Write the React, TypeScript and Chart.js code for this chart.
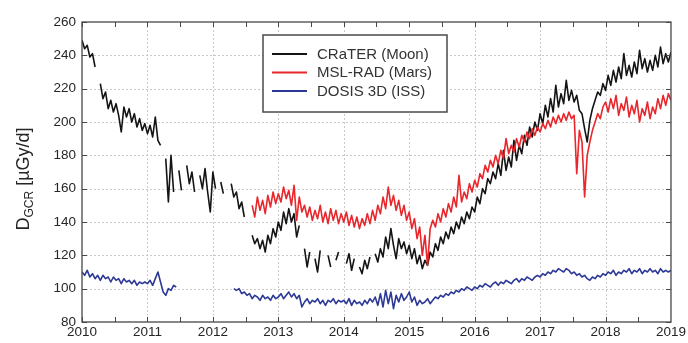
import React, { useEffect, useRef } from "react";
import { Chart, registerables } from "chart.js";

Chart.register(...registerables);

// ---------------- data ----------------
const START_YEAR = 2010;
const STEP = 0.04; // sample spacing in years

const xTicks = [2010, 2011, 2012, 2013, 2014, 2015, 2016, 2017, 2018, 2019];
const yTicks = [80, 100, 120, 140, 160, 180, 200, 220, 240, 260];

const seriesNames = ["CRaTER (Moon)", "MSL-RAD (Mars)", "DOSIS 3D (ISS)"];
const seriesColors = ["#141414", "#e8262b", "#2c3896"];

// CRaTER (Moon), 25 samples per year, 2010.00 .. 2019.00
const crater: (number | null)[] = [
  249, 244, 246, 239, 241, 233, null, 223, 214, 218, 208, 213, 206, 211, 204, 194, 209, 203, 208, 200, 205, 197, 202, 195, 199,
  193, 198, 191, 203, 189, 186, null, 178, 152, 180, 158, null, 171, 159, null, 174, 163, 170, 158, null, 168, 160, 172, 158, 146,
  170, 160, null, 164, 157, null, null, 163, 155, 158, 148, 152, 143, null, null, 132, 127, 130, 124, 129, 122, 132, 127, 136, 131,
  140, 135, 146, 139, 148, 140, 145, 131, 138, null, 124, 113, 122, null, 118, 110, 123, null, null, 120, 113, null, 117, 122, null,
  null, 115, 121, 111, 118, null, 113, 109, 117, 112, 119, null, 121, 116, 124, 119, 131, 124, 136, 126, 118, 130, 124, 128, 121,
  126, 118, 124, 115, 120, 112, 117, 114, 122, 119, 127, 123, 131, 127, 134, 130, 137, 133, 140, 136, 143, 139, 146, 142, 149,
  146, 155, 151, 160, 157, 166, 163, 170, 166, 175, 168, 183, 171, 179, 173, 189, 177, 186, 181, 192, 186, 197, 191, 200, 195,
  205, 199, 210, 203, 214, 206, 222, 209, 217, 211, 225, 213, 219, 212, 216, 207, 205, 196, 188, 201, 208, 213, 218, 216, 223,
  219, 228, 222, 231, 224, 233, 226, 241, 228, 234, 227, 236, 229, 243, 232, 238, 230, 237, 231, 240, 233, 245, 235, 241, 236,
  242,
];

// MSL-RAD (Mars)
const mslRad: (number | null)[] = [
  null, null, null, null, null, null, null, null, null, null, null, null, null, null, null, null, null, null, null, null, null, null, null, null, null,
  null, null, null, null, null, null, null, null, null, null, null, null, null, null, null, null, null, null, null, null, null, null, null, null, null,
  null, null, null, null, null, null, null, null, null, null, null, null, null, null, null, 150, 143, 155, 147, 153, 145, 156, 149, 158, 151,
  157, 152, 161, 154, 159, 150, 162, 141, 155, 146, 150, 143, 149, 141, 147, 142, 150, 140, 146, 139, 148, 141, 147, 139, 145,
  140, 146, 138, 144, 137, 143, 136, 142, 138, 145, 139, 147, 141, 150, 145, 155, 148, 161, 150, 156, 147, 153, 144, 150, 141,
  146, 136, 142, 130, 137, 120, 132, 114, 136, 141, 137, 145, 140, 148, 143, 151, 146, 155, 149, 168, 152, 158, 154, 163, 158,
  165, 161, 169, 166, 174, 170, 177, 173, 180, 175, 183, 178, 190, 181, 186, 182, 190, 185, 192, 188, 194, 190, 196, 192, 197,
  194, 199, 196, 201, 197, 203, 199, 204, 200, 205, 201, 206, 202, 204, 169, 195, 188, 155, 180, 188, 195, 200, 205, 202, 209,
  212, 206, 214, 208, 216, 204, 211, 207, 215, 203, 210, 205, 213, 200, 208, 204, 212, 202, 209, 205, 214, 208, 216, 210, 217,
  213,
];

// DOSIS 3D (ISS)
const dosis: (number | null)[] = [
  110, 108, 111, 107, 109, 106, 108, 105, 108, 106, 107, 104, 107, 105, 106, 103, 106, 104, 105, 103, 105, 102, 104, 103, 104,
  103, 105, 102, 106, 110, 104, 98, 96, 100, 99, 102, 101, null, null, null, null, null, null, null, null, null, null, null, null, null,
  null, null, null, null, null, null, null, null, 100, 99, 100, 97, 98, 96, 97, 94, 96, 95, 93, 96, 94, 95, 93, 96, 94,
  95, 97, 94, 96, 98, 95, 97, 94, 96, 89, 92, 94, 91, 93, 92, 94, 91, 93, 90, 93, 92, 94, 91, 93, 92,
  93, 91, 94, 90, 93, 91, 92, 90, 93, 91, 94, 92, 95, 90, 97, 89, 99, 91, 98, 88, 96, 92, 97, 93, 95,
  98, 92, 95, 90, 93, 91, 92, 94, 91, 93, 95, 94, 96, 95, 97, 96, 98, 97, 99, 98, 100, 99, 101, 100, 99,
  101, 100, 102, 101, 103, 102, 101, 103, 104, 102, 104, 103, 105, 104, 103, 105, 106, 104, 106, 105, 107, 106, 105, 107, 108,
  107, 109, 108, 110, 109, 111, 110, 112, 111, 110, 112, 111, 109, 110, 108, 109, 107, 108, 106, 105, 107, 106, 108, 107, 109,
  108, 110, 109, 111, 108, 110, 109, 111, 110, 112, 109, 111, 110, 112, 109, 111, 110, 112, 110, 111, 109, 112, 110, 111, 110,
  111,
];

const seriesValues = [crater, mslRad, dosis];
const years = crater.map((_, i) => +(START_YEAR + i * STEP).toFixed(2));

// ---------------- styling ----------------
const FONT = "'Liberation Sans', Arial, sans-serif";
const TEXT = "#262626";

const framePlugin = {
  id: "framePlugin",
  beforeDatasetsDraw(chart: any) {
    const { ctx, chartArea: a, scales } = chart;
    const x = scales.x;
    const y = scales.y;
    ctx.save();
    ctx.strokeStyle = "#c9c9c9";
    ctx.lineWidth = 1;
    ctx.setLineDash([2, 2]);
    xTicks.slice(1, -1).forEach((v) => {
      const px = Math.round(x.getPixelForValue(v)) + 0.5;
      ctx.beginPath();
      ctx.moveTo(px, a.top);
      ctx.lineTo(px, a.bottom);
      ctx.stroke();
    });
    yTicks.slice(1, -1).forEach((v) => {
      const py = Math.round(y.getPixelForValue(v)) + 0.5;
      ctx.beginPath();
      ctx.moveTo(a.left, py);
      ctx.lineTo(a.right, py);
      ctx.stroke();
    });
    ctx.restore();
  },
  afterDatasetsDraw(chart: any) {
    const { ctx, chartArea: a, scales } = chart;
    const x = scales.x;
    const y = scales.y;
    ctx.save();
    // frame
    ctx.strokeStyle = "#474747";
    ctx.lineWidth = 1.3;
    ctx.strokeRect(a.left, a.top, a.right - a.left, a.bottom - a.top);
    // inner ticks
    ctx.lineWidth = 1;
    const tl = 5;
    const xt: number[] = [];
    for (let i = 0; i < xTicks.length - 1; i++) {
      xt.push(xTicks[i], (xTicks[i] + xTicks[i + 1]) / 2);
    }
    xt.forEach((v) => {
      const px = Math.round(x.getPixelForValue(v)) + 0.5;
      ctx.beginPath();
      ctx.moveTo(px, a.bottom);
      ctx.lineTo(px, a.bottom - tl);
      ctx.moveTo(px, a.top);
      ctx.lineTo(px, a.top + tl);
      ctx.stroke();
    });
    yTicks.forEach((v) => {
      const py = Math.round(y.getPixelForValue(v)) + 0.5;
      ctx.beginPath();
      ctx.moveTo(a.left, py);
      ctx.lineTo(a.left + tl, py);
      ctx.moveTo(a.right, py);
      ctx.lineTo(a.right - tl, py);
      ctx.stroke();
    });

    // legend
    const lx = 263, ly = 35, lw = 184, lh = 77;
    ctx.fillStyle = "#ffffff";
    ctx.fillRect(lx, ly, lw, lh);
    ctx.strokeStyle = "#4a4a4a";
    ctx.lineWidth = 1.5;
    ctx.strokeRect(lx, ly, lw, lh);
    ctx.font = `15px ${FONT}`;
    ctx.textBaseline = "middle";
    ctx.textAlign = "left";
    seriesNames.forEach((name, k) => {
      const ry = ly + 19 + k * 18.5;
      ctx.strokeStyle = seriesColors[k];
      ctx.lineWidth = 2;
      ctx.beginPath();
      ctx.moveTo(lx + 9, ry);
      ctx.lineTo(lx + 44, ry);
      ctx.stroke();
      ctx.fillStyle = "#333333";
      ctx.fillText(name, lx + 54, ry + 0.5);
    });

    // y axis title with subscript
    ctx.translate(23, 179);
    ctx.rotate(-Math.PI / 2);
    ctx.fillStyle = TEXT;
    ctx.textBaseline = "alphabetic";
    const big = `18px ${FONT}`;
    const small = `12px ${FONT}`;
    ctx.font = big;
    const wD = ctx.measureText("D").width;
    const wRest = ctx.measureText(" [µGy/d]").width;
    ctx.font = small;
    const wSub = ctx.measureText("GCR").width;
    const total = wD + wSub + wRest;
    let cx = -total / 2;
    const base = 6;
    ctx.font = big;
    ctx.fillText("D", cx, base);
    cx += wD;
    ctx.font = small;
    ctx.fillText("GCR", cx, base + 4);
    cx += wSub;
    ctx.font = big;
    ctx.fillText(" [µGy/d]", cx, base);
    ctx.restore();
  },
};

export default function App() {
  const ref = useRef<HTMLCanvasElement | null>(null);

  useEffect(() => {
    document.body.style.margin = "0";
    const canvas = ref.current;
    if (!canvas) return;
    const orders = [1, 0, 2];
    const chart = new Chart(canvas, {
      type: "line",
      data: {
        datasets: seriesValues.map((vals, k) => ({
          label: seriesNames[k],
          data: vals.map((v, i) => ({ x: years[i], y: v })),
          borderColor: seriesColors[k],
          backgroundColor: seriesColors[k],
          borderWidth: 1.6,
          borderJoinStyle: "round",
          pointRadius: 0,
          pointHoverRadius: 0,
          fill: false,
          tension: 0,
          spanGaps: false,
          order: orders[k],
        })),
      },
      options: {
        animation: false,
        responsive: false,
        maintainAspectRatio: false,
        parsing: false,
        normalized: true,
        events: [],
        layout: { padding: { top: 22, right: 8, left: 0, bottom: 0 } },
        plugins: {
          legend: { display: false },
          tooltip: { enabled: false },
          title: { display: false },
        },
        scales: {
          x: {
            type: "linear",
            min: 2010,
            max: 2019,
            afterBuildTicks: (s: any) => {
              s.ticks = xTicks.map((v) => ({ value: v }));
            },
            afterFit: (s: any) => {
              s.height = 21;
            },
            grid: { display: false, drawTicks: false, tickLength: 0 },
            border: { display: false },
            ticks: {
              autoSkip: false,
              maxRotation: 0,
              padding: 2,
              color: TEXT,
              font: { family: FONT, size: 13.5 },
              callback: (v: any) => String(v),
            },
          },
          y: {
            type: "linear",
            min: 80,
            max: 260,
            afterBuildTicks: (s: any) => {
              s.ticks = yTicks.map((v) => ({ value: v }));
            },
            afterFit: (s: any) => {
              s.width = 82;
            },
            grid: { display: false, drawTicks: false, tickLength: 0 },
            border: { display: false },
            ticks: {
              autoSkip: false,
              padding: 6,
              color: TEXT,
              font: { family: FONT, size: 13.5 },
              callback: (v: any) => String(v),
            },
          },
        },
      },
      plugins: [framePlugin],
    } as any);
    return () => chart.destroy();
  }, []);

  return (
    <div style={{ width: 688, height: 343, background: "#fff" }}>
      <canvas ref={ref} width={688} height={343} style={{ display: "block" }} />
    </div>
  );
}
